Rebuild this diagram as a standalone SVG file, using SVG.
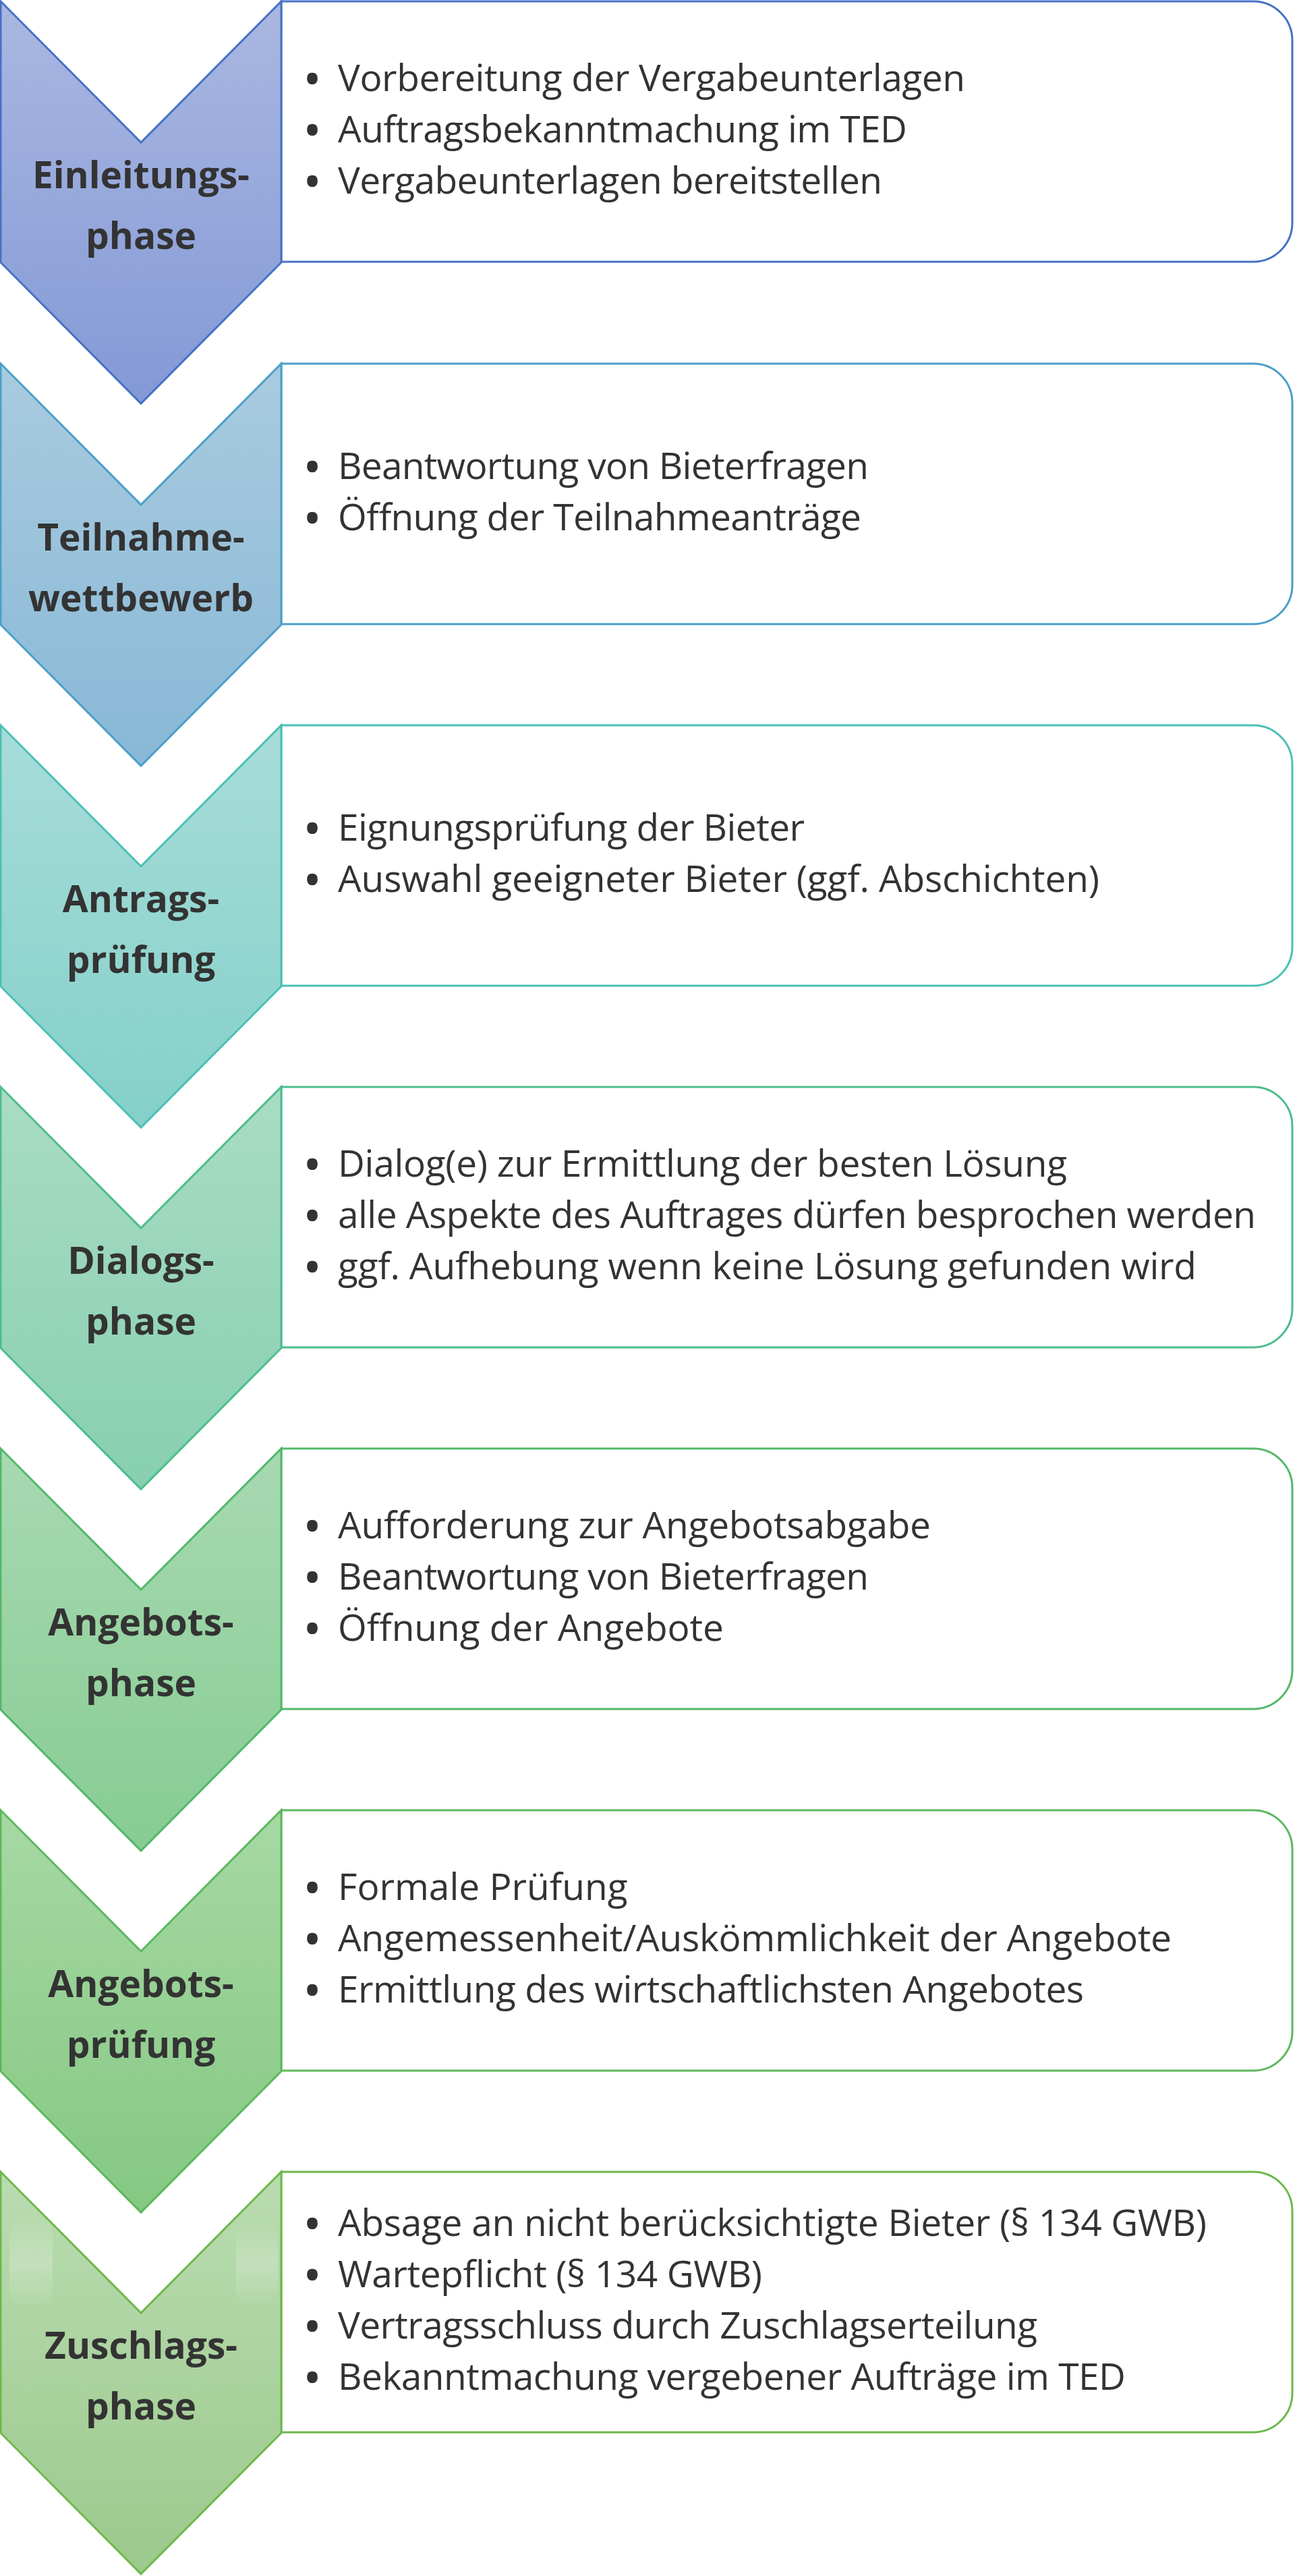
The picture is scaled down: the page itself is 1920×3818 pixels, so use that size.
<svg xmlns="http://www.w3.org/2000/svg" width="1920" height="3818" viewBox="0 0 1920 3818">
<style>
.box{fill:#ffffff;stroke-width:3}
.chev{stroke-width:3;stroke-linejoin:miter}
.lbl{font-family:"Open Sans","Noto Sans","Liberation Sans",sans-serif;font-weight:bold;font-size:55px;fill:#333333;text-anchor:middle}
.itm{font-family:"Open Sans","Noto Sans","Liberation Sans",sans-serif;font-size:55px;fill:#333333}
.bul{font-family:"Open Sans","Noto Sans","Liberation Sans",sans-serif;font-size:56px;font-weight:bold;fill:#333333;text-anchor:middle}
</style>
<defs>
<linearGradient id="g1" x1="0" y1="0" x2="0" y2="1"><stop offset="0" stop-color="#aab7e1"/><stop offset="1" stop-color="#8399d6"/></linearGradient>
<linearGradient id="g2" x1="0" y1="0" x2="0" y2="1"><stop offset="0" stop-color="#a9cbdf"/><stop offset="1" stop-color="#88b8d6"/></linearGradient>
<linearGradient id="g3" x1="0" y1="0" x2="0" y2="1"><stop offset="0" stop-color="#a7dcd9"/><stop offset="1" stop-color="#84d0c9"/></linearGradient>
<linearGradient id="g4" x1="0" y1="0" x2="0" y2="1"><stop offset="0" stop-color="#a9dcc5"/><stop offset="1" stop-color="#87cfb0"/></linearGradient>
<linearGradient id="g5" x1="0" y1="0" x2="0" y2="1"><stop offset="0" stop-color="#a8d9b2"/><stop offset="1" stop-color="#86cc93"/></linearGradient>
<linearGradient id="g6" x1="0" y1="0" x2="0" y2="1"><stop offset="0" stop-color="#a7d8a4"/><stop offset="1" stop-color="#84c882"/></linearGradient>
<linearGradient id="g7" x1="0" y1="0" x2="0" y2="1"><stop offset="0" stop-color="#b9dcb1"/><stop offset="1" stop-color="#9cc98c"/></linearGradient>
<linearGradient id="hl" x1="0" y1="0" x2="0" y2="1"><stop offset="0" stop-color="#ffffff" stop-opacity="0"/><stop offset="0.5" stop-color="#ffffff" stop-opacity="0.22"/><stop offset="1" stop-color="#ffffff" stop-opacity="0"/></linearGradient>
</defs>

<g id="phase1">
<path class="box" stroke="#4472c4" d="M417,2 H1858 A58,58 0 0 1 1916,60 V330 A58,58 0 0 1 1858,388 H417 Z"/>
<polygon class="chev" fill="url(#g1)" stroke="#4472c4" points="1,2 209,211 417,2 417,389 209,598 1,389"/>
<text class="lbl" x="209" y="279">Einleitungs-</text>
<text class="lbl" x="209" y="369">phase</text>
<text class="bul" x="463" y="136.5">•</text><text class="itm" x="501" y="134.5" textLength="930">Vorbereitung der Vergabeunterlagen</text>
<text class="bul" x="463" y="212.5">•</text><text class="itm" x="501" y="210.5" textLength="844">Auftragsbekanntmachung im TED</text>
<text class="bul" x="463" y="288.5">•</text><text class="itm" x="501" y="286.5" textLength="807">Vergabeunterlagen bereitstellen</text>
</g>

<g id="phase2">
<path class="box" stroke="#4a9fc9" d="M417,539 H1858 A58,58 0 0 1 1916,597 V867 A58,58 0 0 1 1858,925 H417 Z"/>
<polygon class="chev" fill="url(#g2)" stroke="#4a9fc9" points="1,539 209,748 417,539 417,926 209,1135 1,926"/>
<text class="lbl" x="209" y="816">Teilnahme-</text>
<text class="lbl" x="209" y="906">wettbewerb</text>
<text class="bul" x="463" y="711.5">•</text><text class="itm" x="501" y="709.5" textLength="787">Beantwortung von Bieterfragen</text>
<text class="bul" x="463" y="787.5">•</text><text class="itm" x="501" y="785.5" textLength="776">Öffnung der Teilnahmeanträge</text>
</g>

<g id="phase3">
<path class="box" stroke="#4bc0b4" d="M417,1075 H1858 A58,58 0 0 1 1916,1133 V1403 A58,58 0 0 1 1858,1461 H417 Z"/>
<polygon class="chev" fill="url(#g3)" stroke="#4bc0b4" points="1,1075 209,1284 417,1075 417,1462 209,1671 1,1462"/>
<text class="lbl" x="209" y="1352">Antrags-</text>
<text class="lbl" x="209" y="1442">prüfung</text>
<text class="bul" x="463" y="1247.5">•</text><text class="itm" x="501" y="1245.5" textLength="692">Eignungsprüfung der Bieter</text>
<text class="bul" x="463" y="1323.5">•</text><text class="itm" x="501" y="1321.5" textLength="1129">Auswahl geeigneter Bieter (ggf. Abschichten)</text>
</g>

<g id="phase4">
<path class="box" stroke="#4cbd8c" d="M417,1611 H1858 A58,58 0 0 1 1916,1669 V1939 A58,58 0 0 1 1858,1997 H417 Z"/>
<polygon class="chev" fill="url(#g4)" stroke="#4cbd8c" points="1,1611 209,1820 417,1611 417,1998 209,2207 1,1998"/>
<text class="lbl" x="209" y="1888">Dialogs-</text>
<text class="lbl" x="209" y="1978">phase</text>
<text class="bul" x="463" y="1745.5">•</text><text class="itm" x="501" y="1743.5" textLength="1081">Dialog(e) zur Ermittlung der besten Lösung</text>
<text class="bul" x="463" y="1821.5">•</text><text class="itm" x="501" y="1819.5" textLength="1361">alle Aspekte des Auftrages dürfen besprochen werden</text>
<text class="bul" x="463" y="1897.5">•</text><text class="itm" x="501" y="1895.5" textLength="1273">ggf. Aufhebung wenn keine Lösung gefunden wird</text>
</g>

<g id="phase5">
<path class="box" stroke="#52b86a" d="M417,2147 H1858 A58,58 0 0 1 1916,2205 V2475 A58,58 0 0 1 1858,2533 H417 Z"/>
<polygon class="chev" fill="url(#g5)" stroke="#52b86a" points="1,2147 209,2356 417,2147 417,2534 209,2743 1,2534"/>
<text class="lbl" x="209" y="2424">Angebots-</text>
<text class="lbl" x="209" y="2514">phase</text>
<text class="bul" x="463" y="2281.5">•</text><text class="itm" x="501" y="2279.5" textLength="879">Aufforderung zur Angebotsabgabe</text>
<text class="bul" x="463" y="2357.5">•</text><text class="itm" x="501" y="2355.5" textLength="787">Beantwortung von Bieterfragen</text>
<text class="bul" x="463" y="2433.5">•</text><text class="itm" x="501" y="2431.5" textLength="572">Öffnung der Angebote</text>
</g>

<g id="phase6">
<path class="box" stroke="#5cb85c" d="M417,2683 H1858 A58,58 0 0 1 1916,2741 V3011 A58,58 0 0 1 1858,3069 H417 Z"/>
<polygon class="chev" fill="url(#g6)" stroke="#5cb85c" points="1,2683 209,2892 417,2683 417,3070 209,3279 1,3070"/>
<text class="lbl" x="209" y="2960">Angebots-</text>
<text class="lbl" x="209" y="3050">prüfung</text>
<text class="bul" x="463" y="2817.5">•</text><text class="itm" x="501" y="2815.5">Formale Prüfung</text>
<text class="bul" x="463" y="2893.5">•</text><text class="itm" x="501" y="2891.5" textLength="1236">Angemessenheit/Auskömmlichkeit der Angebote</text>
<text class="bul" x="463" y="2969.5">•</text><text class="itm" x="501" y="2967.5" textLength="1106">Ermittlung des wirtschaftlichsten Angebotes</text>
</g>

<g id="phase7">
<path class="box" stroke="#6db84a" d="M417,3219 H1858 A58,58 0 0 1 1916,3277 V3547 A58,58 0 0 1 1858,3605 H417 Z"/>
<polygon class="chev" fill="url(#g7)" stroke="#6db84a" points="1,3219 209,3428 417,3219 417,3606 209,3815 1,3606"/>
<rect x="14" y="3282" width="64" height="142" rx="30" fill="url(#hl)"/>
<rect x="350" y="3290" width="62" height="130" rx="30" fill="url(#hl)"/>
<text class="lbl" x="209" y="3496">Zuschlags-</text>
<text class="lbl" x="209" y="3586">phase</text>
<text class="bul" x="463" y="3315.5">•</text><text class="itm" x="501" y="3313.5" textLength="1288">Absage an nicht berücksichtigte Bieter (§ 134 GWB)</text>
<text class="bul" x="463" y="3391.5">•</text><text class="itm" x="501" y="3389.5" textLength="629">Wartepflicht (§ 134 GWB)</text>
<text class="bul" x="463" y="3467.5">•</text><text class="itm" x="501" y="3465.5" textLength="1037">Vertragsschluss durch Zuschlagserteilung</text>
<text class="bul" x="463" y="3543.5">•</text><text class="itm" x="501" y="3541.5" textLength="1168">Bekanntmachung vergebener Aufträge im TED</text>
</g>

<g id="connectors"></g>
</svg>
